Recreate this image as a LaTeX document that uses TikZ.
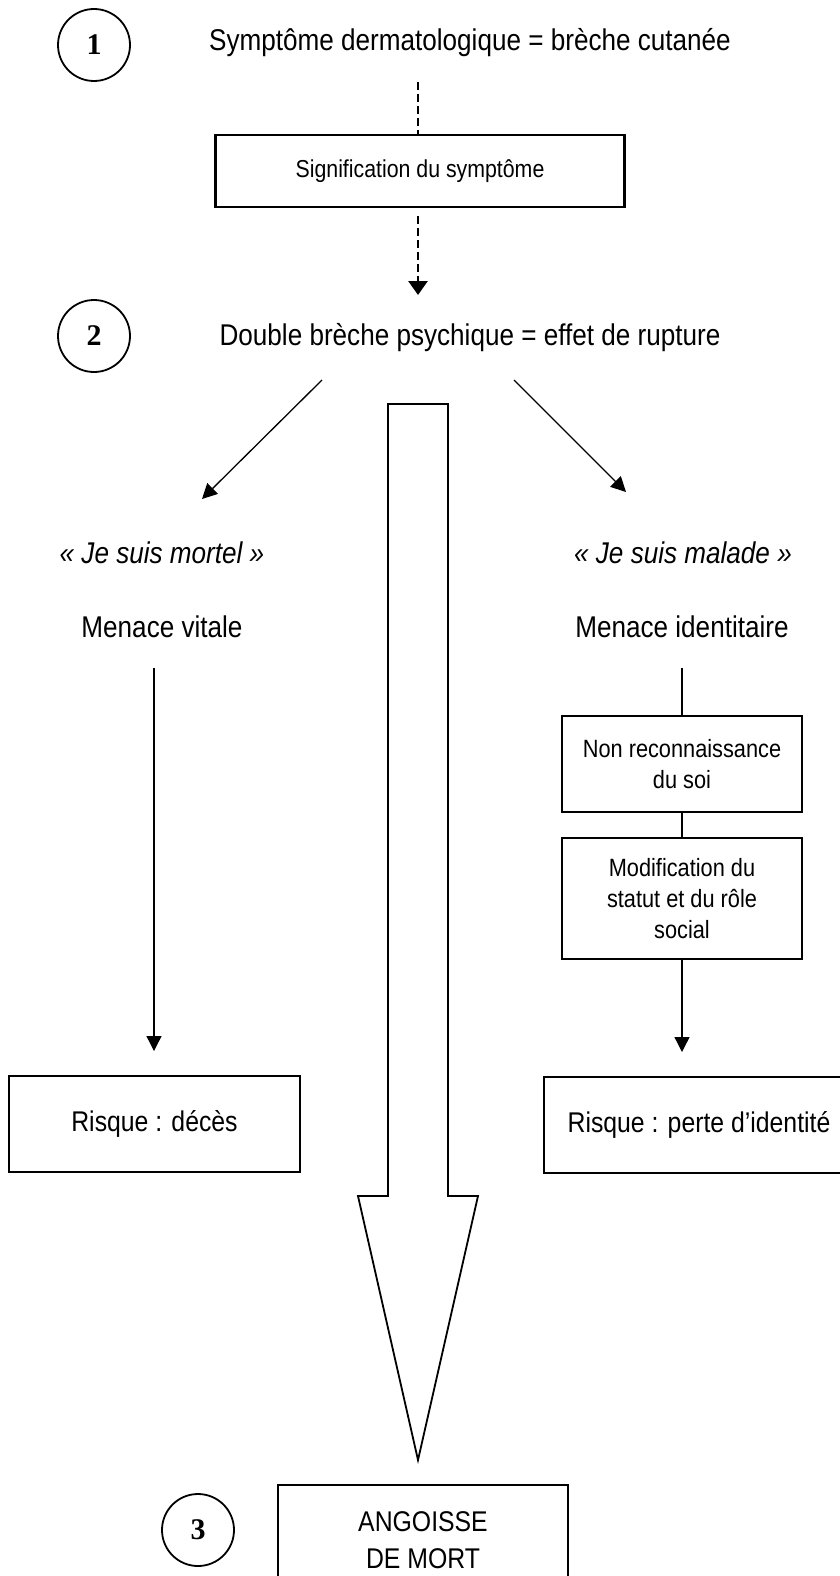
\documentclass[tikz,border=0pt]{standalone}
\usepackage{fontspec}
\setmainfont[FakeStretch=0.87]{Liberation Sans}
\newfontfamily\numfont{Liberation Serif}
\usetikzlibrary{arrows.meta,positioning}

\begin{document}
\begin{tikzpicture}[
    x=1pt,y=-1pt,
    node distance=24pt,
    heading/.style={font=\fontsize{30}{36}\selectfont},
    quote/.style={font=\fontsize{30}{36}\selectfont\itshape},
    box/.style={draw,line width=2pt,minimum width=240pt,align=center,
      font=\fontsize{25}{31}\selectfont},
    risk/.style={box,minimum height=96pt,text depth=6pt,
      font=\fontsize{28.5}{34}\selectfont},
    phase/.style={circle,draw,line width=1.8pt,minimum size=72pt,inner sep=0pt,
      font=\numfont\bfseries\fontsize{30}{36}\selectfont},
    flow/.style={-{Triangle[length=15pt,width=15pt]},line width=1.3pt},
    dflow/.style={-{Triangle[length=14pt,width=19pt]},line width=2.8pt,
      dash pattern=on 8pt off 4pt}
  ]
    \useasboundingbox (0,0) rectangle (839,1576);
    \node[phase] (one) at (94,45) {1};
    \node[heading] (symp) at (470,43) {Symptôme dermatologique = brèche cutanée};
    \node[box,minimum width=409pt,minimum height=72pt,line width=2.6pt,
      font=\fontsize{24.5}{30}\selectfont] (sens) at (420,171) {Signification du symptôme};
    \node[phase] (two) at (94,336) {2};
    \node[heading] (rupt) at (470,338) {Double brèche psychique = effet de rupture};
    \node[quote] (mortel) at (162,553) {« Je suis mortel »};
    \node[heading] (vitale) at (162,627) {Menace vitale};
    \node[quote] (malade) at (683,553) {« Je suis malade »};
    \node[heading] (ident) at (682,627) {Menace identitaire};
    \node[box,minimum height=96pt] (soi) at (682,764) {Non reconnaissance\\du soi};
    \node[box,minimum height=121pt,below=24pt of soi] (statut) {Modification du\\statut et du rôle\\social};
    \node[risk,minimum width=291pt] (deces) at (154.5,1124) {Risque : décès};
    \node[risk,minimum width=310pt] (perte) at (699,1125) {Risque : perte d’identité};
    \node[box,anchor=north,minimum width=290pt,inner sep=27pt,text depth=80pt,
      font=\fontsize{28.5}{37}\selectfont] (angoisse) at (423,1484) {ANGOISSE\\DE MORT};
    \node[phase] (three) at (198,1530) {3};
    \coordinate (d1) at (418,82);
    \coordinate (d2) at (418,295);
    \coordinate (l1) at (322,380);
    \coordinate (l2) at (202,499);
    \coordinate (r1) at (514,380);
    \coordinate (r2) at (626,492);
    \coordinate (v1) at (154,668);
    \coordinate (i1) at (682,668);
    \draw[dflow,-] (d1) -- (sens.north -| d1);
    \draw[dflow,shorten <=8pt] (sens.south -| d2) -- (d2);
    \draw[flow] (l1) -- (l2);
    \draw[flow] (r1) -- (r2);
    \draw[flow,shorten >=24pt] (v1) -- (v1 |- deces.north);
    \draw[line width=1.3pt] (i1) -- (soi.north);
    \draw[line width=1.3pt] (soi) -- (statut);
    \draw[flow,shorten >=24pt] (statut.south) -- (statut.south |- perte.north);
    \draw[line width=1.8pt] (388,404) -- (448,404) -- (448,1196) -- (478,1196)
      -- (418,1460) -- (358,1196) -- (388,1196) -- cycle;
  \end{tikzpicture}
\end{document}
